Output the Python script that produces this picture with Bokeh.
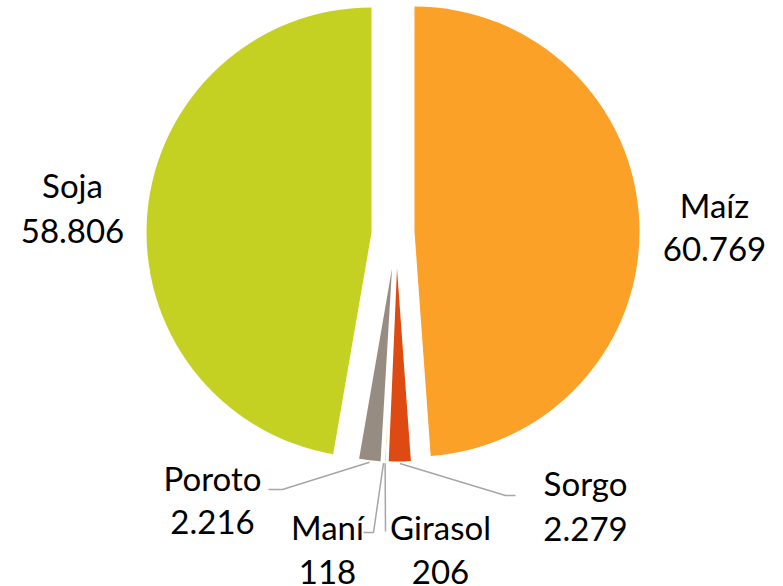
import math
from bokeh.plotting import figure
from bokeh.models import Range1d, ColumnDataSource
from bokeh.core.properties import value
from bokeh.embed import file_html
from bokeh.resources import INLINE

# ---------------- data ----------------
categories = ["Maíz", "Sorgo", "Girasol", "Maní", "Poroto", "Soja"]
values = [60769, 2279, 206, 118, 2216, 58806]
value_labels = ["60.769", "2.279", "206", "118", "2.216", "58.806"]
colors = ["#FCA127", "#DD4B13", "#F0B41C", "#B3A89C", "#978C82", "#C4D123"]

# ---------------- layout (pixel coordinates of the picture) ----------------
W, H = 783, 586


def sy(s):
    # picture y (downward) -> data y (upward)
    return H - s


# apex (picture) and radius of each slice (exploded pie)
slice_apex = [(414.0, 231.0), (396.5, 268.0), (394.0, 268.0), (394.0, 268.0), (391.5, 268.0), (371.0, 232.0)]
slice_radius = [225, 193, 193, 193, 193, 225]

# label anchors: centre x, baseline of category line, baseline of value line (picture)
label_x = [714, 585, 440, 327, 212, 72]
name_base = [216.5, 495, 539, 539, 490, 197]
value_base = [261, 540.5, 583.5, 583.5, 533.5, 243]
BASE_FIX = 12.5  # renderer draws "alphabetic" text this much lower

# leader lines: points after the start on the slice (picture), None for no leader
leader_pts = [None, [(505, 495), (515, 495)], [(385, 531)], [(373, 532), (363, 532)],
              [(282, 489), (268, 489)], None]

# ---------------- figure ----------------
p = figure(width=W, height=H, output_backend="svg", toolbar_location=None,
           x_range=Range1d(0, W), y_range=Range1d(0, H),
           min_border=0, outline_line_color=None, background_fill_color="white",
           border_fill_color="white")
p.axis.visible = False
p.grid.visible = False

total = float(sum(values))
theta = 0.0
xs_l, ys_l = [], []
for i, v in enumerate(values):
    span = v / total * 360.0
    t0, t1 = theta, theta + span
    theta = t1
    ax, ay = slice_apex[i]
    r = slice_radius[i]
    start = math.radians(90.0 - t1)
    end = math.radians(90.0 - t0)
    tiny = span < 1.0
    p.wedge(x=[ax], y=[sy(ay)], radius=r, start_angle=start, end_angle=end,
            direction="anticlock", fill_color=colors[i],
            line_color="white" if tiny else None, line_width=1.5 if tiny else 0)
    if leader_pts[i] is not None:
        mid = math.radians((t0 + t1) / 2.0)
        sx0 = ax + (r + 2) * math.sin(mid)
        sy0 = ay - (r + 2) * math.cos(mid)
        pts = [(sx0, sy0)] + leader_pts[i]
        xs_l.append([q[0] for q in pts])
        ys_l.append([sy(q[1]) for q in pts])

p.multi_line(xs=xs_l, ys=ys_l, line_color="#A6A6A6", line_width=1.5)

src = ColumnDataSource(dict(
    x=label_x,
    y1=[sy(b - BASE_FIX) for b in name_base],
    y2=[sy(b - BASE_FIX) for b in value_base],
    name=categories, val=value_labels))
for col, txt in (("y1", "name"), ("y2", "val")):
    p.text(x="x", y=col, text=txt, source=src, text_font=value("Lato"),
           text_font_size="33px", text_align="center", text_baseline="alphabetic",
           text_color="#000000")

open("out.html", "w").write(file_html(p, INLINE))
